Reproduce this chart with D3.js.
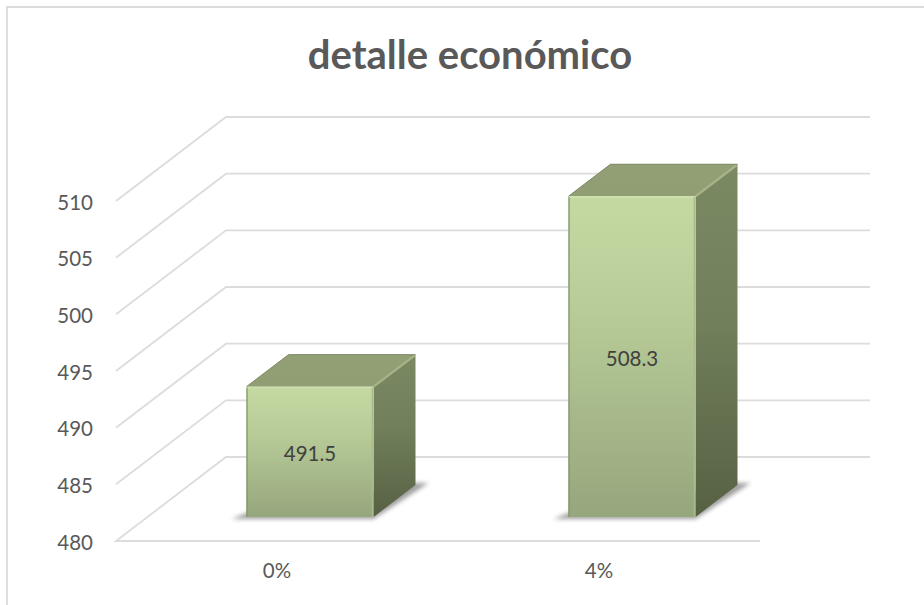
<!DOCTYPE html>
<html>
<head>
<meta charset="utf-8">
<script src="https://cdnjs.cloudflare.com/ajax/libs/d3/7.8.5/d3.min.js"></script>
<style>
html,body{margin:0;padding:0;background:#fff}
svg{display:block}
text{font-family:Lato,"Open Sans",sans-serif}
</style>
</head>
<body>
<div id="chart"></div>
<script>
const categories = ["0%", "4%"];
const values = [491.5, 508.3];
const valueLabels = ["491.5", "508.3"];
const yTicks = [480, 485, 490, 495, 500, 505, 510];
const titleText = "detalle económico";

const W = 924, H = 605;
const svg = d3.select("#chart").append("svg").attr("width", W).attr("height", H);

// Oblique projection: the floor recedes up and to the right.
const wallDX = 110, wallDY = -84;   // front edge of the floor to the back wall
const barDX = 42, barDY = -32;      // depth of one column
const x = d3.scaleBand().domain(categories).range([116, 760]).paddingInner(0).paddingOuter(0);
const y = d3.scaleLinear().domain([480, 510]).range([541, 201]);
const barW = 127;
const floorDX = 33, floorDY = -24;  // columns stand this far back from the front edge

const defs = svg.append("defs");
function vGrad(id, stops) {
  const g = defs.append("linearGradient").attr("id", id).attr("x1", 0).attr("y1", 0).attr("x2", 0).attr("y2", 1);
  stops.forEach(([o, c]) => g.append("stop").attr("offset", o).attr("stop-color", c));
}
vGrad("front", [[0, "#c4d9a2"], [0.35, "#b8cc98"], [1, "#96a67d"]]);
vGrad("side", [[0, "#7b8963"], [0.45, "#717f5b"], [1, "#566143"]]);
vGrad("top", [[0, "#939f75"], [1, "#919e73"]]);
defs.append("filter").attr("id", "soft").attr("x", "-20%").attr("y", "-20%").attr("width", "140%").attr("height", "140%")
  .append("feGaussianBlur").attr("stdDeviation", 2.2);

// Chart frame
svg.append("path").attr("d", `M7,${H} V7 H${W}`).attr("fill", "none").attr("stroke", "#dcdcdc").attr("stroke-width", 1.8);

// Gridlines on the side wall and the back wall
const grid = svg.append("g").attr("fill", "none").attr("stroke", "#dcdcdc").attr("stroke-width", 1.8);
yTicks.forEach(t => {
  const a = y(t);
  const d = t === 480
    ? `M760,${a} H116 L226,${a + wallDY} H870`
    : `M116,${a} L226,${a + wallDY} H870`;
  grid.append("path").attr("d", d);
});

// Value axis labels
svg.append("g").selectAll("text").data(yTicks).join("text")
  .attr("x", 93).attr("y", d => y(d) + 8.5).attr("text-anchor", "end")
  .attr("font-size", 20.5).attr("fill", "#595959").text(d => d);

// Category axis labels
svg.append("g").selectAll("text").data(categories).join("text")
  .attr("x", d => x(d) + x.bandwidth() / 2).attr("y", 578).attr("text-anchor", "middle")
  .attr("font-size", 20.5).attr("fill", "#595959").text(d => d);

// Columns
const rows = categories.map((c, i) => ({c, v: values[i], label: valueLabels[i]}));
const bars = svg.append("g").selectAll("g").data(rows).join("g");
const left = d => x(d.c) + x.bandwidth() / 2 - barW / 2 + floorDX;
const base = () => y(480) + floorDY;
const topY = d => y(d.v) + floorDY;
const poly = pts => "M" + pts.map(p => p.join(",")).join("L") + "Z";

// Contact shadow on the floor
bars.append("path").attr("filter", "url(#soft)").attr("fill", "#808080").attr("opacity", 0.75)
  .attr("d", d => {
    const l = left(d), r = l + barW, b = base();
    return poly([[l - 15, b + 2], [l, b - 4], [r + barDX, b + barDY - 2], [r + barDX + 13, b + barDY - 2], [r, b + 2]]);
  });

bars.append("path").attr("fill", "url(#top)")
  .attr("d", d => { const l = left(d), r = l + barW, t = topY(d);
    return poly([[l, t], [r, t], [r + barDX, t + barDY], [l + barDX, t + barDY]]); });

bars.append("path").attr("fill", "url(#side)")
  .attr("d", d => { const r = left(d) + barW, t = topY(d), b = base();
    return poly([[r, t], [r + barDX, t + barDY], [r + barDX, b + barDY], [r, b]]); });

bars.append("rect").attr("fill", "url(#front)")
  .attr("x", left).attr("y", topY).attr("width", barW).attr("height", d => base() - topY(d));

// Bevel highlights along the front face and the top edges
bars.append("path").attr("fill", "none").attr("stroke", "#cde0ad").attr("stroke-width", 1.4)
  .attr("d", d => { const l = left(d) + 1, r = l + barW - 2, t = topY(d) + 1;
    return `M${l},${t} H${r}`; });
bars.append("path").attr("fill", "none").attr("stroke", "#a9bb8a").attr("stroke-width", 1.6)
  .attr("d", d => { const r = left(d) + barW - 1; return `M${r},${topY(d) + 1} V${base()}`; });
bars.append("path").attr("fill", "none").attr("stroke", "#7f9268").attr("stroke-width", 1.2)
  .attr("d", d => { const l = left(d) + 0.5; return `M${l},${topY(d) + 1} V${base()}`; });
bars.append("path").attr("fill", "none").attr("stroke", "#a6b388").attr("stroke-width", 2.4)
  .attr("d", d => { const r = left(d) + barW, t = topY(d);
    return `M${r},${t} L${r + barDX - 1},${t + barDY + 1}`; });
bars.append("path").attr("fill", "none").attr("stroke", "#78885f").attr("stroke-width", 1)
  .attr("d", d => { const l = left(d), t = topY(d);
    return `M${l},${t} L${l + barDX},${t + barDY} H${l + barW + barDX}`; });

// Value labels centred on the front face
bars.append("text")
  .attr("x", d => left(d) + barW / 2)
  .attr("y", d => (topY(d) + base()) / 2 + 9)
  .attr("text-anchor", "middle").attr("font-size", 20.5).attr("fill", "#404040")
  .text(d => d.label);

// Title
svg.append("text").attr("x", 470).attr("y", 69).attr("text-anchor", "middle")
  .attr("font-size", 40).attr("font-weight", 700).attr("fill", "#595959").text(titleText);
</script>
</body>
</html>
